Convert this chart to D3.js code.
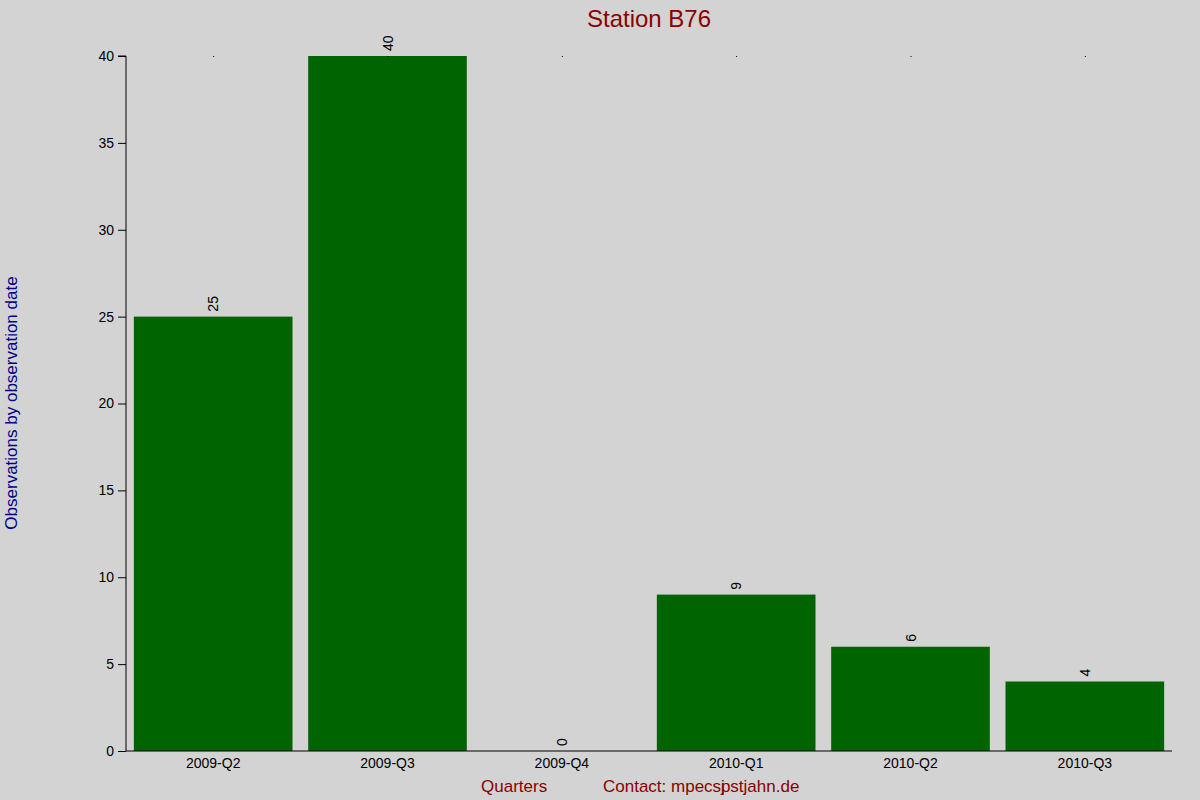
<!DOCTYPE html>
<html><head><meta charset="utf-8">
<script src="https://cdn.jsdelivr.net/npm/d3@7"></script>
<style>body{margin:0;background:#d3d3d3}text{font-family:"Liberation Sans",Arial,sans-serif}</style>
</head><body><svg width="1200" height="800"></svg>
<script>
const quarters = ["2009-Q2", "2009-Q3", "2009-Q4", "2010-Q1", "2010-Q2", "2010-Q3"];
const counts = [25, 40, 0, 9, 6, 4];
const yTicks = [0, 5, 10, 15, 20, 25, 30, 35, 40];

const svg = d3.select("svg");
svg.append("rect").attr("width", 1200).attr("height", 800).attr("fill", "#d3d3d3");

const x = d3.scaleBand().domain(quarters).range([126, 1172]).paddingInner(0.09).paddingOuter(0.045);
const y = d3.scaleLinear().domain([0, 40]).range([751, 56]);

svg.selectAll("rect.bar").data(counts).enter().append("rect")
  .attr("class", "bar")
  .attr("x", (d, i) => x(quarters[i]))
  .attr("y", d => y(d))
  .attr("width", x.bandwidth())
  .attr("height", d => y(0) - y(d))
  .attr("fill", "#006400");

// value labels, rotated
svg.selectAll("text.val").data(counts).enter().append("text")
  .attr("transform", (d, i) => `translate(${x(quarters[i]) + x.bandwidth() / 2 + 5},${y(d) - 5}) rotate(-90)`)
  .attr("font-size", 14).text(d => d);

// top tick dots
svg.selectAll("rect.dot").data(quarters).enter().append("rect")
  .attr("x", d => x(d) + x.bandwidth() / 2).attr("y", 56).attr("width", 1).attr("height", 1).attr("fill", "#000");

const yAxis = svg.append("g").attr("transform", "translate(126,0)")
  .call(d3.axisLeft(y).tickValues(yTicks).tickSize(8).tickPadding(4));
yAxis.select(".domain").attr("d", "M-8,56H0V751");
yAxis.selectAll("text").attr("font-size", 14).attr("fill", "#000").attr("font-family", "Liberation Sans, Arial, sans-serif");

const xAxis = svg.append("g").attr("transform", "translate(0,751)")
  .call(d3.axisBottom(x).tickSize(0).tickPadding(7));
xAxis.select(".domain").attr("d", "M126,0H1172");
xAxis.selectAll("text").attr("font-size", 14).attr("fill", "#000").attr("font-family", "Liberation Sans, Arial, sans-serif");

svg.append("text").attr("x", 649).attr("y", 27).attr("text-anchor", "middle")
  .attr("font-size", 24).attr("fill", "#8b0000").text("Station B76");
svg.append("text").attr("transform", "translate(17,403) rotate(-90)").attr("text-anchor", "middle")
  .attr("font-size", 17).attr("fill", "#00008b").text("Observations by observation date");
svg.append("text").attr("x", 481).attr("y", 792).attr("font-size", 17).attr("fill", "#8b0000").text("Quarters");
const c = svg.append("text").attr("x", 603).attr("y", 792).attr("font-size", 17).attr("fill", "#8b0000");
c.append("tspan").text("Contact: mpecsj");
c.append("tspan").attr("dx", -4).text("pstjahn.de");
</script></body></html>
